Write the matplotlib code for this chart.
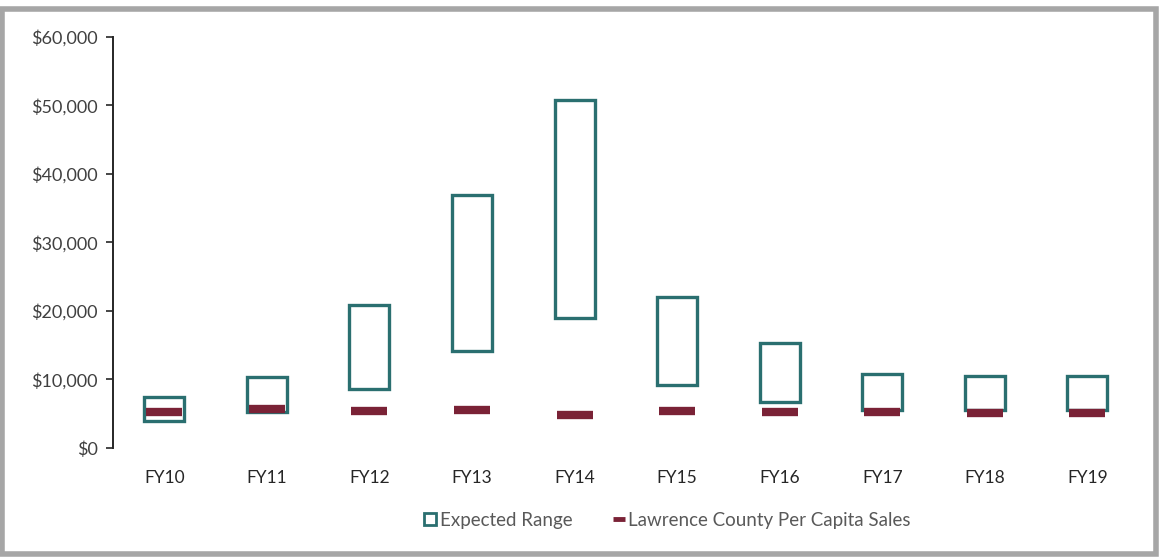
import matplotlib
matplotlib.use("Agg")
import matplotlib.pyplot as plt
from matplotlib.lines import Line2D
from matplotlib.patches import Rectangle
import numpy as np

categories = ["FY10", "FY11", "FY12", "FY13", "FY14", "FY15", "FY16", "FY17", "FY18", "FY19"]
range_low = [4000, 5300, 8600, 14200, 19000, 9200, 6700, 5600, 5600, 5600]
range_high = [7500, 10400, 20900, 36900, 50800, 22100, 15400, 10800, 10500, 10500]
county_sales = [5300, 5700, 5400, 5600, 4800, 5400, 5300, 5300, 5100, 5100]
yticks = [0, 10000, 20000, 30000, 40000, 50000, 60000]
ytick_labels = ["$0", "$10,000", "$20,000", "$30,000", "$40,000", "$50,000", "$60,000"]

TEAL = "#2A6F70"
RED = "#7A2236"
TXT = "#404040"

plt.rcParams["font.family"] = ["Lato", "DejaVu Sans"]

fig = plt.figure(figsize=(11.59, 5.57), dpi=100)
ax = fig.add_axes([0.0975, 0.1957, 0.885, 0.7379])

x = np.arange(len(categories))
heights = np.array(range_high) - np.array(range_low)
ax.bar(x, heights, bottom=range_low, width=0.39, fill=False,
       edgecolor=TEAL, linewidth=2.4, zorder=2)
ax.plot(x, county_sales, linestyle="none", marker="_", markersize=26,
        markeredgewidth=6, color=RED, zorder=3)

ax.set_xlim(-0.5, len(categories) - 0.5)
ax.set_ylim(0, 60000)
ax.set_yticks(yticks)
ax.set_yticklabels(ytick_labels, fontsize=13, color=TXT)
ax.set_xticks(x)
ax.set_xticklabels(categories, fontsize=12.5, color="#262626")
ax.tick_params(axis="x", length=0, pad=16)
ax.tick_params(axis="y", length=5, width=1.2, color="#262626", pad=6)
for s in ["top", "right", "bottom"]:
    ax.spines[s].set_visible(False)
ax.spines["left"].set_color("#262626")
ax.spines["left"].set_linewidth(1.4)

handles = [
    Line2D([], [], linestyle="none", marker="s", markersize=9, markerfacecolor="white",
           markeredgecolor=TEAL, markeredgewidth=2),
    Line2D([], [], linestyle="none", marker="_", markersize=8, markeredgewidth=3.5, color=RED),
]
fig.legend(handles, ["Expected Range", "Lawrence County Per Capita Sales"],
           loc="center", bbox_to_anchor=(0.5745, 0.066), ncol=2, frameon=False,
           fontsize=13.5, labelcolor="#595959", handletextpad=0.0, columnspacing=2.0,
           handlelength=1.0)

# grey outer border
fig.patches.append(Rectangle((0.002, 0.006), 0.995, 0.977, transform=fig.transFigure,
                             fill=False, edgecolor="#A6A6A6", linewidth=4))

fig.savefig("out.png", dpi=100, facecolor="white")
